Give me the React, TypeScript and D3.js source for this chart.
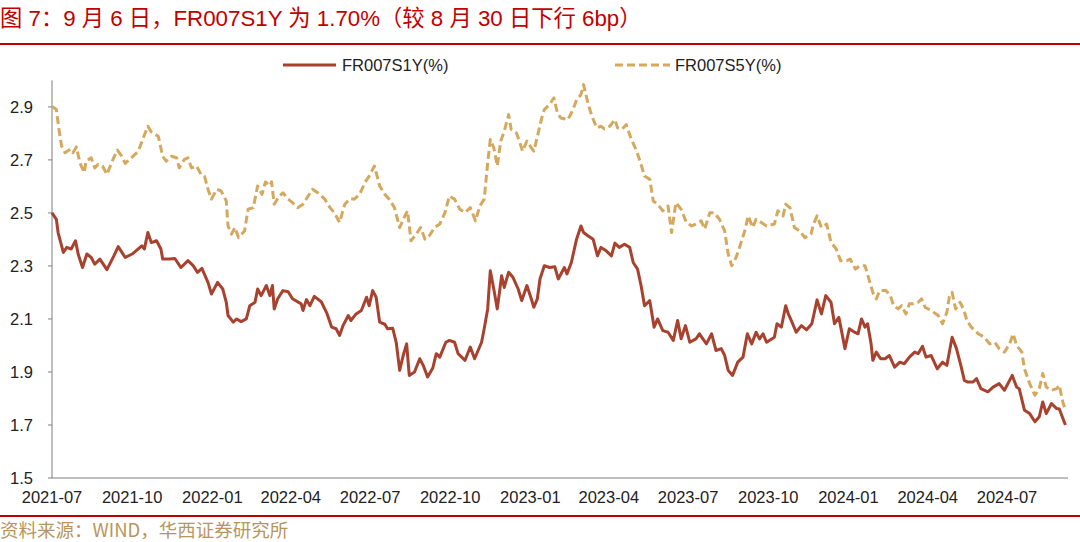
import React, { useEffect } from "react";
import * as d3 from "d3";

const titleText = "图 7：9 月 6 日，FR007S1Y 为 1.70%（较 8 月 30 日下行 6bp）";
const sourceText = "资料来源：WIND，华西证券研究所";
const seriesNames = ["FR007S1Y(%)", "FR007S5Y(%)"];
const xTickLabels = ["2021-07", "2021-10", "2022-01", "2022-04", "2022-07", "2022-10", "2023-01", "2023-04", "2023-07", "2023-10", "2024-01", "2024-04", "2024-07"];
const yTicks = [1.5, 1.7, 1.9, 2.1, 2.3, 2.5, 2.7, 2.9];
const yDomain = [1.5, 3.0];
const xDomain = ["2021-07-01", "2024-09-06"];

const s1yDates = [
  "2021-07-01","2021-07-06","2021-07-08","2021-07-14","2021-07-18","2021-07-23","2021-07-28","2021-07-31","2021-08-05","2021-08-10",
  "2021-08-15","2021-08-19","2021-08-25","2021-09-02","2021-09-10","2021-09-15","2021-09-23","2021-10-01","2021-10-12","2021-10-15",
  "2021-10-19","2021-10-23","2021-10-29","2021-11-03","2021-11-05","2021-11-13","2021-11-19","2021-11-26","2021-12-04","2021-12-10",
  "2021-12-15","2021-12-20","2021-12-27","2021-12-31","2022-01-07","2022-01-13","2022-01-17","2022-01-19","2022-01-25","2022-01-29",
  "2022-02-03","2022-02-09","2022-02-13","2022-02-19","2022-02-22","2022-02-26","2022-03-04","2022-03-08","2022-03-11","2022-03-13",
  "2022-03-17","2022-03-23","2022-03-29","2022-04-03","2022-04-13","2022-04-15","2022-04-19","2022-04-23","2022-04-28","2022-05-06",
  "2022-05-12","2022-05-18","2022-05-23","2022-05-27","2022-05-31","2022-06-06","2022-06-09","2022-06-15","2022-06-21","2022-06-27",
  "2022-06-30","2022-07-04","2022-07-08","2022-07-12","2022-07-18","2022-07-21","2022-07-27","2022-07-31","2022-08-04","2022-08-08",
  "2022-08-12","2022-08-15","2022-08-21","2022-08-27","2022-08-31","2022-09-05","2022-09-11","2022-09-15","2022-09-19","2022-09-26",
  "2022-09-30","2022-10-06","2022-10-10","2022-10-18","2022-10-24","2022-10-29","2022-11-06","2022-11-09","2022-11-13","2022-11-16",
  "2022-11-20","2022-11-24","2022-11-29","2022-12-02","2022-12-07","2022-12-12","2022-12-18","2022-12-22","2022-12-28","2023-01-02",
  "2023-01-05","2023-01-09","2023-01-12","2023-01-17","2023-01-23","2023-01-29","2023-02-02","2023-02-09","2023-02-12","2023-02-17",
  "2023-02-23","2023-02-28","2023-03-03","2023-03-08","2023-03-14","2023-03-19","2023-03-23","2023-03-29","2023-04-04","2023-04-08",
  "2023-04-13","2023-04-19","2023-04-25","2023-04-29","2023-05-04","2023-05-08","2023-05-12","2023-05-18","2023-05-23","2023-05-27",
  "2023-06-02","2023-06-08","2023-06-14","2023-06-19","2023-06-23","2023-06-28","2023-07-03","2023-07-10","2023-07-14","2023-07-22",
  "2023-07-28","2023-08-02","2023-08-08","2023-08-12","2023-08-16","2023-08-21","2023-08-27","2023-09-02","2023-09-07","2023-09-12",
  "2023-09-17","2023-09-21","2023-09-25","2023-09-29","2023-10-08","2023-10-11","2023-10-16","2023-10-21","2023-10-24","2023-10-29",
  "2023-11-02","2023-11-08","2023-11-14","2023-11-20","2023-11-26","2023-12-01","2023-12-06","2023-12-12","2023-12-16","2023-12-21",
  "2023-12-24","2023-12-28","2024-01-02","2024-01-08","2024-01-12","2024-01-16","2024-01-20","2024-01-23","2024-01-27","2024-01-29",
  "2024-02-02","2024-02-07","2024-02-12","2024-02-17","2024-02-23","2024-02-29","2024-03-05","2024-03-11","2024-03-17","2024-03-21",
  "2024-03-26","2024-03-30","2024-04-05","2024-04-12","2024-04-18","2024-04-23","2024-04-29","2024-05-04","2024-05-09","2024-05-13",
  "2024-05-17","2024-05-23","2024-05-27","2024-06-01","2024-06-09","2024-06-15","2024-06-22","2024-06-28","2024-07-07","2024-07-12",
  "2024-07-15","2024-07-21","2024-07-27","2024-08-02","2024-08-07","2024-08-11","2024-08-15","2024-08-21","2024-08-27","2024-08-30",
  "2024-09-06"
];
const s1yValues = [
  2.500,2.476,2.426,2.351,2.370,2.364,2.395,2.345,2.294,2.345,
  2.332,2.307,2.326,2.286,2.338,2.373,2.332,2.345,2.376,2.364,
  2.426,2.388,2.395,2.364,2.326,2.326,2.328,2.294,2.320,2.301,
  2.276,2.291,2.238,2.194,2.238,2.213,2.163,2.113,2.088,2.100,
  2.090,2.100,2.150,2.163,2.213,2.188,2.226,2.188,2.226,2.138,
  2.176,2.207,2.203,2.176,2.157,2.132,2.173,2.150,2.185,2.165,
  2.125,2.069,2.063,2.038,2.075,2.113,2.094,2.119,2.132,2.182,
  2.150,2.207,2.182,2.088,2.080,2.063,2.065,2.012,1.906,1.962,
  2.006,1.887,1.900,1.950,1.925,1.881,1.915,1.969,1.956,2.012,
  2.019,2.012,1.969,1.944,1.994,1.950,2.012,2.063,2.138,2.282,
  2.213,2.138,2.263,2.219,2.276,2.257,2.213,2.169,2.226,2.176,
  2.144,2.176,2.251,2.301,2.294,2.297,2.251,2.294,2.270,2.313,
  2.401,2.451,2.426,2.414,2.401,2.338,2.370,2.357,2.338,2.386,
  2.370,2.382,2.370,2.313,2.288,2.226,2.150,2.169,2.069,2.100,
  2.056,2.050,2.019,2.094,2.025,2.075,2.012,2.025,2.044,2.006,
  2.044,1.981,1.988,1.962,1.906,1.887,1.937,1.956,2.044,2.006,
  2.050,2.025,2.044,2.012,2.031,2.082,2.069,2.150,2.119,2.082,
  2.050,2.075,2.059,2.082,2.172,2.119,2.188,2.163,2.082,2.106,
  2.056,1.988,2.063,2.050,2.044,2.100,2.069,2.082,2.006,1.944,
  1.975,1.950,1.950,1.962,1.918,1.937,1.931,1.956,1.975,1.969,
  1.997,1.956,1.962,1.912,1.937,1.925,2.031,1.988,1.925,1.868,
  1.862,1.862,1.875,1.837,1.825,1.843,1.856,1.831,1.887,1.843,
  1.837,1.756,1.743,1.712,1.731,1.787,1.743,1.781,1.762,1.760,
  1.700
];

const s5yDates = [
  "2021-07-01","2021-07-06","2021-07-09","2021-07-12","2021-07-16","2021-07-22","2021-07-25","2021-07-29","2021-08-02","2021-08-07",
  "2021-08-09","2021-08-15","2021-08-19","2021-08-23","2021-08-28","2021-09-02","2021-09-09","2021-09-14","2021-09-19","2021-09-23",
  "2021-09-30","2021-10-08","2021-10-13","2021-10-19","2021-10-23","2021-10-31","2021-11-05","2021-11-09","2021-11-15","2021-11-21",
  "2021-11-24","2021-11-30","2021-12-04","2021-12-08","2021-12-14","2021-12-19","2021-12-23","2021-12-27","2021-12-31","2022-01-06",
  "2022-01-11","2022-01-17","2022-01-19","2022-01-23","2022-01-27","2022-01-31","2022-02-07","2022-02-11","2022-02-17","2022-02-22",
  "2022-02-27","2022-03-03","2022-03-08","2022-03-10","2022-03-13","2022-03-19","2022-03-23","2022-03-29","2022-04-03","2022-04-09",
  "2022-04-15","2022-04-21","2022-04-26","2022-05-02","2022-05-10","2022-05-16","2022-05-21","2022-05-27","2022-06-02","2022-06-08",
  "2022-06-13","2022-06-19","2022-06-25","2022-06-30","2022-07-06","2022-07-12","2022-07-18","2022-07-23","2022-07-29","2022-08-04",
  "2022-08-10","2022-08-13","2022-08-17","2022-08-23","2022-08-28","2022-09-02","2022-09-07","2022-09-13","2022-09-19","2022-09-25",
  "2022-09-30","2022-10-06","2022-10-12","2022-10-18","2022-10-24","2022-10-30","2022-11-04","2022-11-09","2022-11-13","2022-11-16",
  "2022-11-20","2022-11-24","2022-11-28","2022-12-02","2022-12-07","2022-12-10","2022-12-16","2022-12-20","2022-12-23","2022-12-28",
  "2023-01-02","2023-01-05","2023-01-10","2023-01-14","2023-01-17","2023-01-23","2023-01-28","2023-02-01","2023-02-05","2023-02-13",
  "2023-02-19","2023-02-23","2023-02-28","2023-03-03","2023-03-08","2023-03-12","2023-03-18","2023-03-23","2023-03-27","2023-04-02",
  "2023-04-08","2023-04-11","2023-04-16","2023-04-21","2023-04-27","2023-05-03","2023-05-08","2023-05-12","2023-05-18","2023-05-22",
  "2023-05-27","2023-06-02","2023-06-08","2023-06-12","2023-06-17","2023-06-23","2023-06-29","2023-07-05","2023-07-10","2023-07-16",
  "2023-07-20","2023-07-26","2023-07-31","2023-08-06","2023-08-12","2023-08-16","2023-08-20","2023-08-25","2023-08-29","2023-09-04",
  "2023-09-08","2023-09-13","2023-09-17","2023-09-23","2023-09-29","2023-10-08","2023-10-12","2023-10-18","2023-10-21","2023-10-26",
  "2023-10-31","2023-11-06","2023-11-12","2023-11-19","2023-11-22","2023-11-26","2023-12-01","2023-12-07","2023-12-12","2023-12-18",
  "2023-12-23","2023-12-30","2024-01-03","2024-01-09","2024-01-14","2024-01-20","2024-01-24","2024-01-29","2024-02-02","2024-02-06",
  "2024-02-13","2024-02-18","2024-02-22","2024-02-27","2024-03-02","2024-03-07","2024-03-11","2024-03-15","2024-03-21","2024-03-25",
  "2024-03-29","2024-04-05","2024-04-13","2024-04-18","2024-04-23","2024-04-26","2024-04-29","2024-05-03","2024-05-08","2024-05-12",
  "2024-05-16","2024-05-21","2024-05-29","2024-06-05","2024-06-11","2024-06-17","2024-06-22","2024-06-28","2024-07-04","2024-07-08",
  "2024-07-12","2024-07-18","2024-07-21","2024-07-27","2024-08-02","2024-08-07","2024-08-11","2024-08-15","2024-08-21","2024-08-27",
  "2024-08-30","2024-09-03","2024-09-06"
];
const s5yValues = [
  2.902,2.890,2.815,2.752,2.727,2.740,2.727,2.749,2.689,2.652,
  2.695,2.708,2.670,2.683,2.677,2.645,2.702,2.737,2.714,2.687,
  2.708,2.733,2.777,2.827,2.805,2.789,2.714,2.695,2.714,2.708,
  2.670,2.702,2.708,2.670,2.677,2.645,2.639,2.589,2.552,2.589,
  2.583,2.545,2.451,2.420,2.445,2.407,2.432,2.514,2.520,2.602,
  2.570,2.617,2.602,2.617,2.533,2.564,2.576,2.552,2.539,2.520,
  2.533,2.564,2.589,2.576,2.552,2.520,2.501,2.464,2.533,2.554,
  2.552,2.570,2.614,2.639,2.677,2.602,2.570,2.552,2.520,2.445,
  2.489,2.508,2.395,2.420,2.445,2.401,2.414,2.445,2.458,2.501,
  2.564,2.552,2.514,2.501,2.520,2.470,2.526,2.552,2.689,2.777,
  2.746,2.677,2.771,2.808,2.871,2.815,2.802,2.764,2.733,2.771,
  2.746,2.733,2.802,2.858,2.890,2.909,2.934,2.877,2.858,2.852,
  2.890,2.927,2.946,2.984,2.915,2.871,2.821,2.827,2.817,2.827,
  2.852,2.821,2.815,2.833,2.777,2.733,2.683,2.639,2.627,2.545,
  2.533,2.508,2.526,2.426,2.539,2.514,2.464,2.451,2.458,2.470,
  2.439,2.501,2.501,2.476,2.432,2.345,2.301,2.332,2.370,2.432,
  2.489,2.445,2.476,2.464,2.451,2.458,2.508,2.489,2.533,2.519,
  2.445,2.432,2.407,2.420,2.458,2.489,2.445,2.458,2.389,2.364,
  2.320,2.320,2.326,2.288,2.301,2.301,2.257,2.200,2.176,2.207,
  2.207,2.188,2.150,2.138,2.150,2.119,2.157,2.157,2.163,2.176,
  2.144,2.132,2.113,2.082,2.125,2.188,2.200,2.138,2.163,2.138,
  2.094,2.069,2.044,2.031,2.006,2.012,1.988,1.975,2.006,2.044,
  2.000,1.975,1.912,1.856,1.812,1.837,1.894,1.843,1.831,1.837,
  1.850,1.787,1.756
];

const W = 1080;
const H = 542;
const FONT = "'Liberation Sans', Arial, 'Noto Sans CJK SC', sans-serif";
const RED = "#C00000";
const C1 = "#A8412E";
const C2 = "#D5A85E";

export default function App() {
  useEffect(() => {
    document.body.style.margin = "0";
  }, []);

  const parse = d3.timeParse("%Y-%m-%d");
  const x = d3.scaleTime()
    .domain(xDomain.map((d) => parse(d) as Date))
    .range([52, 1065.4]);
  const y = d3.scaleLinear().domain(yDomain).range([478, 80.4]);

  const s1 = s1yDates.map((d, i) => ({ date: parse(d) as Date, v: s1yValues[i] }));
  const s5 = s5yDates.map((d, i) => ({ date: parse(d) as Date, v: s5yValues[i] }));
  const line = d3.line<{ date: Date; v: number }>()
    .x((d) => x(d.date))
    .y((d) => y(d.v));

  const xTicks = xTickLabels.map((t) => ({ label: t, date: parse(t + "-01") as Date }));

  return (
    <svg width={W} height={H} style={{ display: "block", background: "#fff" }} fontFamily={FONT}>
      <text x={0} y={26} fontSize={22.3} fill={RED} fontFamily="'Liberation Sans', 'Noto Sans CJK SC', sans-serif">{titleText}</text>
      <line x1={0} x2={W} y1={44} y2={44} stroke={RED} strokeWidth={2} />

      {/* legend */}
      <line x1={283} x2={336} y1={65} y2={65} stroke={C1} strokeWidth={3} />
      <text x={342} y={71} fontSize={16.5} fill="#222">{seriesNames[0]}</text>
      <line x1={615} x2={670} y1={65} y2={65} stroke={C2} strokeWidth={3} strokeDasharray="8,4" />
      <text x={675} y={71} fontSize={16.5} fill="#222">{seriesNames[1]}</text>

      {/* axes */}
      <line x1={52} x2={52} y1={y(3.0)} y2={y(1.5)} stroke="#7f7f7f" strokeWidth={1} />
      <line x1={52} x2={1068} y1={y(1.5)} y2={y(1.5)} stroke="#7f7f7f" strokeWidth={1} />
      {yTicks.map((t) => (
        <g key={t}>
          <line x1={48} x2={52} y1={y(t)} y2={y(t)} stroke="#7f7f7f" strokeWidth={1} />
          <text x={33} y={y(t) + 6} fontSize={16.5} textAnchor="end" fill="#222">{t.toFixed(1)}</text>
        </g>
      ))}
      {xTicks.map((t) => (
        <text key={t.label} x={x(t.date)} y={503} fontSize={16.5} textAnchor="middle" fill="#222">{t.label}</text>
      ))}

      {/* series */}
      <path d={line(s5) || ""} fill="none" stroke={C2} strokeWidth={3} strokeDasharray="8,4" strokeLinejoin="round" />
      <path d={line(s1) || ""} fill="none" stroke={C1} strokeWidth={3} strokeLinejoin="round" />

      <line x1={0} x2={W} y1={516} y2={516} stroke={RED} strokeWidth={2} />
      <text x={0} y={537} fontSize={18.5} fill="#B8955E" fontFamily="'Noto Sans CJK SC', sans-serif">{sourceText}</text>
    </svg>
  );
}
